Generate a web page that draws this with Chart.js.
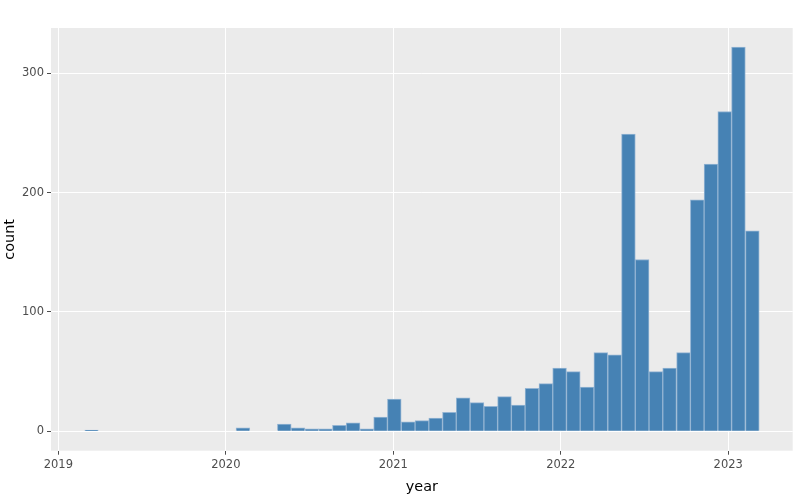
<!DOCTYPE html>
<html>
<head>
<meta charset="utf-8">
<script src="https://cdn.jsdelivr.net/npm/chart.js@4"></script>
<style>
  html, body { margin: 0; padding: 0; background: #fff; }
  #wrap { width: 800px; height: 494px; }
</style>
</head>
<body>
<div id="wrap"><canvas id="histChart" width="800" height="494"></canvas></div>
<script>
// bin centres (decimal years, 30-day bins) and counts
const binCentres = [
    2019.198, 2020.102,
    2020.349, 2020.431, 2020.513, 2020.595, 2020.678, 2020.760, 2020.842, 2020.924,
    2021.006, 2021.089, 2021.171, 2021.253, 2021.335, 2021.417, 2021.500, 2021.582,
    2021.664, 2021.746, 2021.828, 2021.911, 2021.993, 2022.075, 2022.157, 2022.239,
    2022.322, 2022.404, 2022.486, 2022.568, 2022.650, 2022.733, 2022.815, 2022.897,
    2022.979, 2023.061, 2023.144
];
const counts = [
    1, 3,
    6, 3, 2, 2, 5, 7, 2, 12,
    27, 8, 9, 11, 16, 28, 24, 21,
    29, 22, 36, 40, 53, 50, 37, 66,
    64, 249, 144, 50, 53, 66, 194, 224,
    268, 322, 168
];
const yearTicks = [2019, 2020, 2021, 2022, 2023];
const countTicks = [0, 100, 200, 300];

const tickFont = { family: 'DejaVu Sans', size: 11.5 };
const titleFont = { family: 'DejaVu Sans', size: 14.4, lineHeight: 1 };

const panelBackground = {
    id: 'panelBackground',
    beforeDraw(chart) {
        const { ctx, chartArea: a } = chart;
        ctx.save();
        ctx.fillStyle = '#EBEBEB';
        ctx.fillRect(a.left, a.top, a.right - a.left, a.bottom - a.top);
        ctx.restore();
    }
};

function createChart() {
    const ctx = document.getElementById('histChart').getContext('2d');
    const points = binCentres.map((x, i) => ({ x: x, y: counts[i] }));

    new Chart(ctx, {
        type: 'bar',
        data: {
            datasets: [{
                data: points,
                backgroundColor: '#4682B4',
                borderColor: '#93B4D3',
                borderWidth: 1,
                barPercentage: 1,
                categoryPercentage: 1
            }]
        },
        options: {
            responsive: false,
            animation: false,
            layout: { padding: { left: 0, right: 7.3, top: 28, bottom: 0 } },
            plugins: {
                legend: { display: false },
                tooltip: { enabled: false }
            },
            scales: {
                x: {
                    type: 'linear',
                    min: 2018.956,
                    max: 2023.385,
                    offset: false,
                    afterFit: scale => { scale.height = 43.3; },
                    afterBuildTicks: scale => {
                        scale.ticks = yearTicks.map(v => ({ value: v }));
                    },
                    grid: { color: '#FFFFFF', lineWidth: 1, tickColor: '#4D4D4D', tickLength: 4, offset: false },
                    border: { display: false },
                    ticks: {
                        color: '#4D4D4D',
                        font: tickFont,
                        padding: 3,
                        maxRotation: 0,
                        callback: v => String(v)
                    },
                    title: {
                        display: true,
                        text: 'year',
                        color: '#000000',
                        font: titleFont,
                        padding: { top: 0, bottom: 0 }
                    }
                },
                y: {
                    min: -16.26,
                    max: 338,
                    afterFit: scale => { scale.width = 51; },
                    afterBuildTicks: scale => {
                        scale.ticks = countTicks.map(v => ({ value: v }));
                    },
                    grid: { color: '#FFFFFF', lineWidth: 1, tickColor: '#4D4D4D', tickLength: 4 },
                    border: { display: false },
                    ticks: {
                        color: '#4D4D4D',
                        font: tickFont,
                        padding: 3,
                        callback: v => String(v)
                    },
                    title: {
                        display: true,
                        text: 'count',
                        color: '#000000',
                        font: titleFont,
                        padding: { top: 3, bottom: 0 }
                    }
                }
            }
        },
        plugins: [panelBackground]
    });
}

document.addEventListener('DOMContentLoaded', createChart);
</script>
</body>
</html>
